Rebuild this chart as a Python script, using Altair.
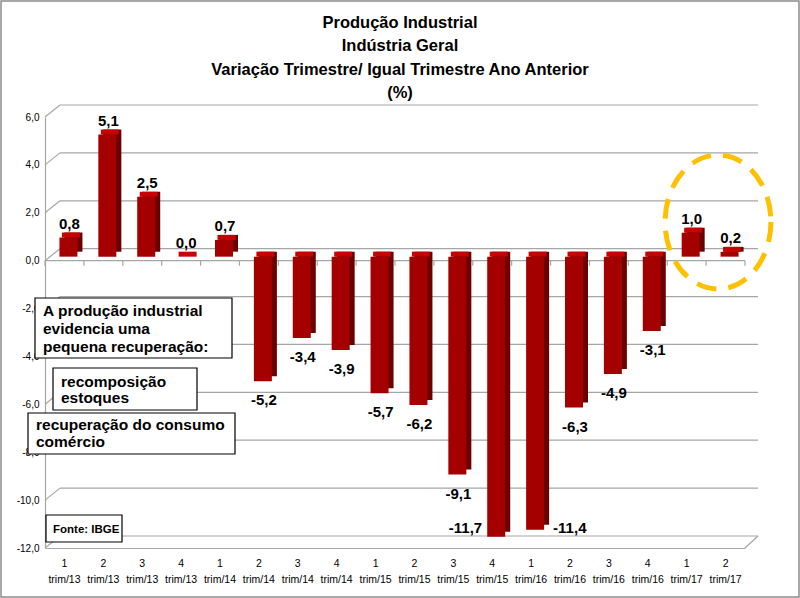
import altair as alt
import pandas as pd

# ---------------- data ----------------
categories = ["1 trim/13", "2 trim/13", "3 trim/13", "4 trim/13",
              "1 trim/14", "2 trim/14", "3 trim/14", "4 trim/14",
              "1 trim/15", "2 trim/15", "3 trim/15", "4 trim/15",
              "1 trim/16", "2 trim/16", "3 trim/16", "4 trim/16",
              "1 trim/17", "2 trim/17"]
values = [0.8, 5.1, 2.5, 0.0, 0.7, -5.2, -3.4, -3.9, -5.7, -6.2,
          -9.1, -11.7, -11.4, -6.3, -4.9, -3.1, 1.0, 0.2]
y_ticks = [-12, -10, -8, -6, -4, -2, 0, 2, 4, 6]

title_lines = ["Produção Industrial", "Indústria Geral",
               "Variação Trimestre/ Igual Trimestre Ano Anterior", "(%)"]
note_main = ["A produção industrial", "evidencia uma", "pequena recuperação:"]
note_stock = ["recomposição", "estoques"]
note_consumo = ["recuperação do consumo", "comércio"]
source_text = "Fonte: IBGE"
label_left_cat = "4 trim/15"
label_right_cat = "1 trim/16"

# ---------------- setup ----------------
W, H = 700, 431
GRID = "#A6A6A6"
FONT = "Liberation Sans"
FMT = "replace(replace(format({f}, '.1f'), '.', ','), '\u2212', '-')"

df = pd.DataFrame({"cat": categories, "v": values})
grid_df = pd.DataFrame({"v": y_ticks})
one = pd.DataFrame({"a": [0]})

x_scale = alt.Scale(domain=categories, paddingInner=0, paddingOuter=0)
y_scale = alt.Scale(domain=[-12, 6], nice=False, zero=False)

x_axis = alt.Axis(labelExpr="split(datum.label, ' ')", labelAngle=0,
                  labelFont=FONT, labelFontSize=10.5, labelColor="#000",
                  labelPadding=10, labelLineHeight=16, ticks=False,
                  domainColor=GRID, domainWidth=1.2, grid=False, title=None)
y_axis = alt.Axis(values=y_ticks, labelExpr=FMT.format(f="datum.value"),
                  labelFont=FONT, labelFontSize=10, labelColor="#000",
                  ticks=False, grid=False, domainColor=GRID, domainWidth=1.2,
                  labelPadding=6, title=None)


def X(**kw):
    return alt.X("cat:N", sort=categories, scale=x_scale, axis=x_axis, **kw)


def Y(field="v"):
    return alt.Y(f"{field}:Q", scale=y_scale, axis=y_axis)


# back-wall grid lines
grid = alt.Chart(grid_df).mark_rule(color=GRID, strokeWidth=1.2, yOffset=-12).encode(
    y=Y(), x=alt.value(15), x2=alt.value(713))
grid_slant = alt.Chart(grid_df).mark_rule(color=GRID, strokeWidth=1.2, y2Offset=-12).encode(
    y=Y(), y2=alt.Y2("v:Q"), x=alt.value(0), x2=alt.value(15))
floor_slant = alt.Chart(pd.DataFrame({"v": [-12]})).mark_rule(
    color=GRID, strokeWidth=1.2, y2Offset=-12).encode(
    y=Y(), y2=alt.Y2("v:Q"), x=alt.value(700), x2=alt.value(713))

# front zero line with ticks
zero_line = alt.Chart(pd.DataFrame({"v": [0]})).mark_rule(color=GRID, strokeWidth=1.2).encode(
    y=Y(), x=alt.value(0), x2=alt.value(700))
zero_ticks = alt.Chart(df).transform_calculate(z="0").mark_rule(
    color=GRID, strokeWidth=1.2, y2Offset=5).encode(
    x=X(bandPosition=0), y=Y("z"), y2=alt.Y2("z:Q"))
zero_tick_end = alt.Chart(pd.DataFrame({"v": [0]})).mark_rule(
    color=GRID, strokeWidth=1.2, y2Offset=5).encode(
    y=Y(), y2=alt.Y2("v:Q"), x=alt.value(700))

# 3D-ish bars: back face (side), top cap, front face
bar_back = alt.Chart(df).mark_bar(size=18, color="#6A0000", xOffset=9, yOffset=-9, y2Offset=-9).encode(
    x=X(), y=Y(), y2=alt.datum(0))
bar_cap = alt.Chart(df).transform_calculate(top="max(datum.v, 0)").mark_bar(
    size=18, color="#C80000", xOffset=6.5, yOffset=-9, y2Offset=-4).encode(
    x=X(), y=Y("top"), y2=alt.Y2("top:Q"))
bar_front = alt.Chart(df).mark_bar(size=18, color="#A50000", xOffset=4, yOffset=-4, y2Offset=-4).encode(
    x=X(), y=Y(), y2=alt.datum(0))

lbl = dict(font=FONT, fontWeight="bold", fontSize=15, color="#000")
labels_base = alt.Chart(df).transform_calculate(lbl=FMT.format(f="datum.v"))
lab_pos = labels_base.transform_filter("datum.v >= 0").mark_text(
    dx=5, dy=-18, baseline="middle", **lbl).encode(x=X(), y=Y(), text="lbl:N")
lab_neg = labels_base.transform_filter(
    f"datum.v < 0 && datum.cat != '{label_left_cat}' && datum.cat != '{label_right_cat}'").mark_text(
    dx=5, dy=15, baseline="middle", **lbl).encode(x=X(), y=Y(), text="lbl:N")
lab_left = labels_base.transform_filter(f"datum.cat == '{label_left_cat}'").mark_text(
    dx=-10, dy=-13, align="right", baseline="middle", **lbl).encode(x=X(), y=Y(), text="lbl:N")
lab_right = labels_base.transform_filter(f"datum.cat == '{label_right_cat}'").mark_text(
    dx=22, dy=-6, align="left", baseline="middle", **lbl).encode(x=X(), y=Y(), text="lbl:N")


# annotation boxes
def box(x1, y1, x2, y2):
    return alt.Chart(one).mark_rect(fill="white", stroke="#000", strokeWidth=1.2).encode(
        x=alt.value(x1), x2=alt.value(x2), y=alt.value(y1), y2=alt.value(y2))


def note(lines, x, y, size, lh, align="left"):
    return alt.Chart(one).mark_text(text=lines, align=align, baseline="alphabetic",
                                    font=FONT, fontWeight="bold", fontSize=size,
                                    lineHeight=lh, color="#000").encode(
        x=alt.value(x), y=alt.value(y))


title = note(title_lines, 355, -89, 16.5, 23.3, align="center")

box1 = box(-10, 181, 187, 241)
txt1 = note(note_main, -2, 199, 15.5, 18)
box2 = box(8, 251, 152, 293)
txt2 = note(note_stock, 16, 270, 15.5, 16)
box3 = box(-17, 296, 190, 337)
txt3 = note(note_consumo, -9, 313, 15.5, 17)
box4 = box(1, 398, 77, 425)
txt4 = note(source_text, 8, 416, 11.5, 14)

ellipse_path = ("M 0.79 0 C 0.79 0.5523 0.4363 1 0 1 C -0.4363 1 -0.79 0.5523 -0.79 0 "
                "C -0.79 -0.5523 -0.4363 -1 0 -1 C 0.4363 -1 0.79 -0.5523 0.79 0 Z")
ellipse = alt.Chart(one).mark_point(shape=ellipse_path, size=17956, filled=False,
                                    stroke="#FFC000", strokeWidth=5, strokeDash=[20, 12],
                                    opacity=1).encode(x=alt.value(673), y=alt.value(105))

border = alt.Chart(one).mark_rect(fillOpacity=0, stroke="#8C8C8C", strokeWidth=1.5).encode(
    x=alt.value(-44), x2=alt.value(754), y=alt.value(-116), y2=alt.value(480))

chart = alt.layer(
    grid, grid_slant, floor_slant, zero_line, zero_ticks, zero_tick_end,
    bar_back, bar_cap, bar_front, lab_pos, lab_neg, lab_left, lab_right,
    title, box1, txt1, box2, txt2, box3, txt3, box4, txt4, ellipse, border
).properties(
    width=W, height=H,
    padding={"left": 45, "top": 117, "right": 55, "bottom": 50},
    autosize=alt.AutoSizeParams(type="none"),
    background="white",
).configure_view(stroke=None)

chart.save("out.html", embed_options={"renderer": "svg", "actions": False})
